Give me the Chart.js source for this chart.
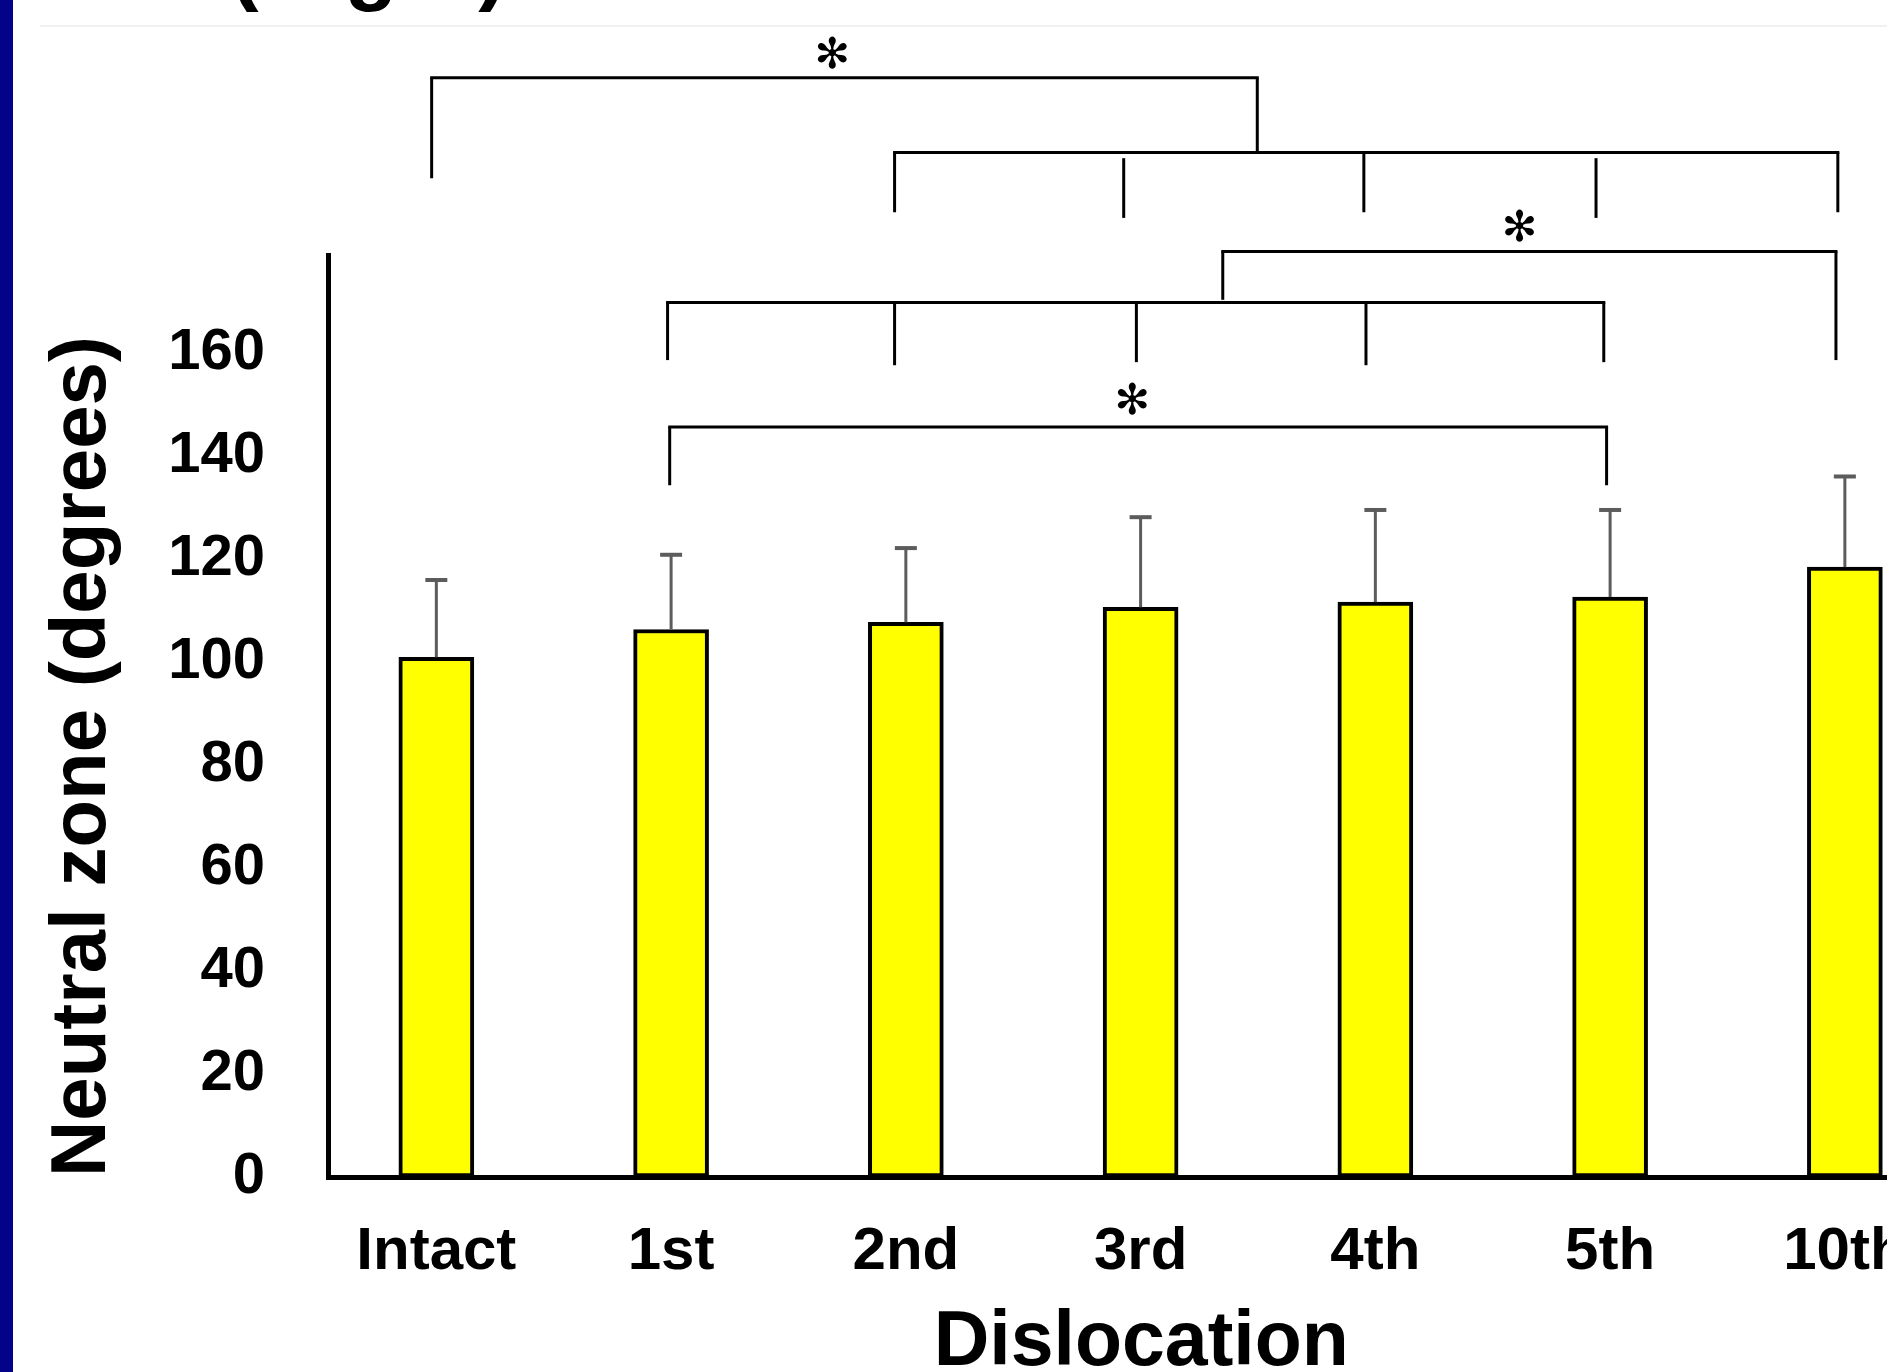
<!DOCTYPE html>
<html>
<head>
<meta charset="utf-8">
<script src="https://cdn.jsdelivr.net/npm/chart.js@4.4.1/dist/chart.umd.min.js"></script>
<style>
  html, body { margin: 0; padding: 0; background: #ffffff; overflow: hidden; width: 1887px; height: 1372px; }
  #wrap { position: relative; width: 1887px; height: 1372px; overflow: hidden; background: #ffffff; }
  #rule { position: absolute; left: 40px; top: 25px; width: 1847px; height: 2px; background: #f1f1f1; }
  #c { position: absolute; left: 0; top: 0; }
  #stripe { position: absolute; left: 0; top: 0; width: 13px; height: 1372px; background: #03038a; z-index: 2; }
</style>
</head>
<body>
<div id="wrap">
  <div id="rule"></div>
  <canvas id="c" width="1960" height="1372"></canvas>
  <div id="stripe"></div>
</div>
<script>
// ---- data ----
const categories = ['Intact', '1st', '2nd', '3rd', '4th', '5th', '10th'];
const means      = [100.9, 106.3, 107.7, 110.6, 111.6, 112.6, 118.4];
const sds        = [15.0, 14.5, 14.4, 17.5, 17.9, 16.9, 17.6];
const yTickStep  = 20;
const yAxisMax   = 179;
const xTitle     = 'Dislocation';
const yTitle     = 'Neutral zone (degrees)';
const topTitle   = '(Right)';

// significance brackets, in category-index / degree units
const bracketLevels = [213.4, 198.9, 179.7, 169.8, 145.6];
const bracketSpans  = [[-0.02, 3.497], [1.952, 5.97], [3.35, 5.962], [0.985, 4.973], [0.994, 4.985]];
const bracketDrops  = [
  [[-0.02, 213.4, 193.9], [3.497, 213.4, 198.9]],
  [[1.952, 198.9, 187.3], [2.928, 197.8, 186.2], [3.951, 198.9, 187.3], [4.94, 197.8, 186.2], [5.97, 198.9, 187.3]],
  [[3.35, 179.7, 170.3], [5.962, 179.7, 158.6]],
  [[0.985, 169.8, 158.6], [1.952, 169.8, 157.6], [2.982, 169.8, 158.2], [3.96, 169.8, 157.6], [4.973, 169.8, 158.2]],
  [[0.994, 145.6, 134.3], [4.985, 145.6, 134.3]]
];
const starX = [1.688, 4.615, 2.966];
const starY = [218.4, 184.8, 151.2];
const starGlyph = '\u273B';

const SANS = '"Liberation Sans", Arial, Helvetica, sans-serif';
Chart.defaults.font.family = SANS;

const errorBars = {
  id: 'errorBars',
  afterDatasetsDraw(chart) {
    const { ctx, scales: { x, y } } = chart;
    ctx.save();
    ctx.strokeStyle = '#5c5c5c';
    means.forEach((m, i) => {
      const px = x.getPixelForValue(i);
      const y0 = y.getPixelForValue(m);
      const y1 = y.getPixelForValue(m + sds[i]);
      ctx.lineWidth = 3;
      ctx.beginPath(); ctx.moveTo(px, y0); ctx.lineTo(px, y1); ctx.stroke();
      ctx.lineWidth = 4;
      ctx.beginPath(); ctx.moveTo(px - 11, y1); ctx.lineTo(px + 11, y1); ctx.stroke();
    });
    ctx.restore();
  }
};

const annotations = {
  id: 'annotations',
  afterDraw(chart) {
    const { ctx, scales: { x, y } } = chart;
    ctx.save();
    // partially visible slide title at the very top
    ctx.fillStyle = '#000';
    ctx.font = 'bold 86px ' + SANS;
    ctx.textAlign = 'left';
    ctx.textBaseline = 'alphabetic';
    ctx.fillText(topTitle, 230, -6);

    // brackets
    ctx.strokeStyle = '#000';
    ctx.lineWidth = 3;
    ctx.lineCap = 'butt';
    bracketLevels.forEach((lv, b) => {
      const [a, c] = bracketSpans[b];
      const yy = y.getPixelForValue(lv);
      ctx.beginPath();
      ctx.moveTo(x.getPixelForValue(a) - 1.5, yy);
      ctx.lineTo(x.getPixelForValue(c) + 1.5, yy);
      ctx.stroke();
      bracketDrops[b].forEach(([dx, top, bot]) => {
        const px = x.getPixelForValue(dx);
        ctx.beginPath();
        ctx.moveTo(px, y.getPixelForValue(top));
        ctx.lineTo(px, y.getPixelForValue(bot));
        ctx.stroke();
      });
    });

    // asterisks, scaled to about 33 px tall
    ctx.font = '40px "DejaVu Sans", sans-serif';
    let m = ctx.measureText(starGlyph);
    const h40 = m.actualBoundingBoxAscent + m.actualBoundingBoxDescent;
    const size = h40 > 0 ? 40 * 33 / h40 : 40;
    ctx.font = size.toFixed(1) + 'px "DejaVu Sans", sans-serif';
    m = ctx.measureText(starGlyph);
    const w = m.actualBoundingBoxRight + m.actualBoundingBoxLeft;
    const h = m.actualBoundingBoxAscent + m.actualBoundingBoxDescent;
    starX.forEach((sx, i) => {
      const cx = x.getPixelForValue(sx);
      const cy = y.getPixelForValue(starY[i]);
      ctx.fillText(starGlyph, cx - w / 2 + m.actualBoundingBoxLeft, cy + h / 2 - m.actualBoundingBoxDescent);
    });
    ctx.restore();
  }
};

new Chart(document.getElementById('c').getContext('2d'), {
  type: 'bar',
  data: {
    datasets: [{
      data: categories.map((c, i) => ({ x: i, y: means[i] })),
      backgroundColor: '#ffff00',
      borderColor: '#000000',
      borderWidth: 4,
      borderSkipped: false,
      barThickness: 75
    }]
  },
  options: {
    responsive: false,
    animation: false,
    layout: { padding: { top: 255, left: 0, right: 5.5, bottom: 0 } },
    plugins: { legend: { display: false }, tooltip: { enabled: false } },
    scales: {
      x: {
        type: 'linear',
        offset: false,
        min: -0.4615,
        max: 6.467,
        grid: { display: false, drawTicks: false, offset: false },
        border: { display: true, color: '#000', width: 5 },
        ticks: {
          stepSize: 1,
          includeBounds: false,
          autoSkip: false,
          maxRotation: 0,
          padding: 39,
          color: '#000',
          font: { size: 60, weight: 'bold', family: SANS },
          callback: (v) => {
            const i = Math.round(v);
            return (Math.abs(v - i) < 1e-6 && categories[i] !== undefined) ? categories[i] : '';
          }
        },
        title: {
          display: true,
          text: xTitle,
          color: '#000',
          padding: 0,
          font: { size: 77, weight: 'bold', family: SANS, lineHeight: 0.727 }
        },
        afterFit: (s) => { s.height = 195; }
      },
      y: {
        type: 'linear',
        min: 0,
        max: yAxisMax,
        grid: { display: false, drawTicks: false },
        border: { display: true, color: '#000', width: 5 },
        ticks: {
          stepSize: yTickStep,
          includeBounds: false,
          padding: 63,
          color: '#000',
          font: { size: 58, weight: 'bold', family: SANS }
        },
        title: {
          display: true,
          text: yTitle,
          align: 'start',
          color: '#000',
          padding: { top: 37, bottom: 0 },
          font: { size: 78, weight: 'bold', family: SANS, lineHeight: 1.2 }
        },
        afterFit: (s) => { s.width = 328; }
      }
    }
  },
  plugins: [errorBars, annotations]
});
</script>
</body>
</html>
